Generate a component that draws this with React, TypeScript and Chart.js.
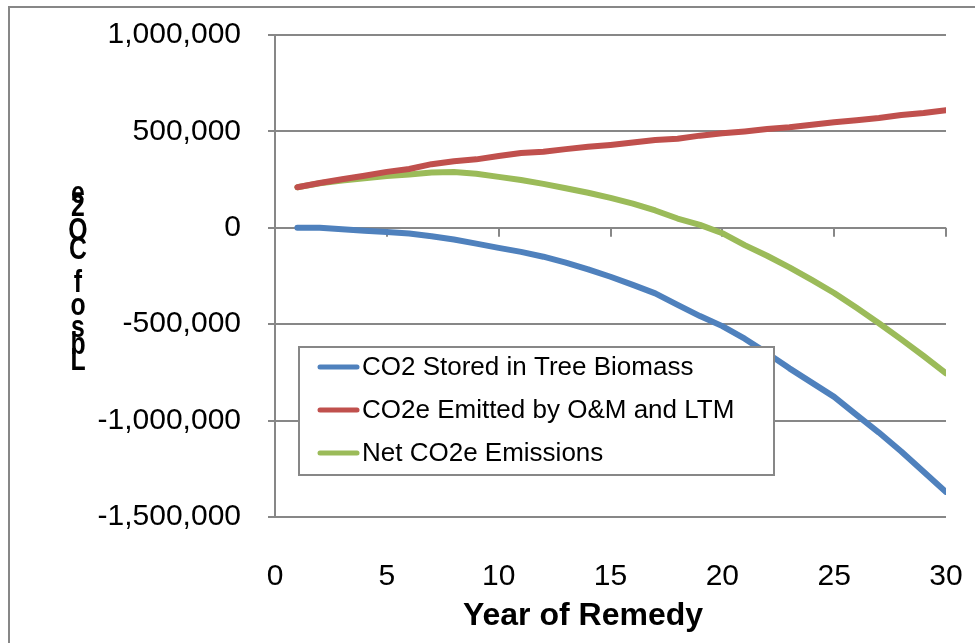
import React, { useEffect, useRef } from "react";
import { Chart, registerables } from "chart.js";

Chart.register(...registerables);

// ---- data ----
const years = [
  1, 2, 3, 4, 5, 6, 7, 8, 9, 10, 11, 12, 13, 14, 15,
  16, 17, 18, 19, 20, 21, 22, 23, 24, 25, 26, 27, 28, 29, 30,
];
const storedInTrees = [
  0, 0, -7000, -15000, -22000, -30000, -44000, -61000, -82000, -104000,
  -125000, -150000, -181000, -216000, -254000, -296000, -340000, -400000, -458000, -510000,
  -575000, -650000, -729000, -803000, -877000, -970000, -1062000, -1160000, -1265000, -1370000,
];
const emittedOM = [
  210000, 232000, 252000, 270000, 290000, 305000, 330000, 345000, 355000, 372000,
  388000, 395000, 408000, 420000, 430000, 442000, 455000, 462000, 478000, 490000,
  500000, 512000, 522000, 535000, 548000, 558000, 570000, 585000, 595000, 610000,
];
const netEmissions = [
  210000, 231000, 245000, 257000, 268000, 277000, 287000, 289000, 280000, 264000,
  248000, 228000, 205000, 182000, 155000, 125000, 90000, 48000, 15000, -28000,
  -90000, -145000, -205000, -270000, -338000, -415000, -495000, -579000, -665000, -755000,
];
const seriesNames = [
  "CO2 Stored in Tree Biomass",
  "CO2e Emitted by O&M and LTM",
  "Net CO2e Emissions",
];
const seriesColors = ["#4F81BD", "#C0504D", "#9BBB59"];
const xTicks = [0, 5, 10, 15, 20, 25, 30];
const yMin = -1500000;
const yMax = 1000000;
const yStep = 500000;
const xAxisTitle = "Year of Remedy";
const yAxisTitle = "Lbs of CO2e";

const FONT = "'Liberation Sans', Arial, sans-serif";
const GRAY = "#878787";

const zeroPadding = (s: any) => {
  s.paddingTop = 0;
  s.paddingBottom = 0;
  s.paddingLeft = 0;
  s.paddingRight = 0;
};

const decorPlugin = {
  id: "decor",
  beforeDraw(chart: any) {
    const ctx = chart.ctx;
    ctx.save();
    ctx.fillStyle = "#ffffff";
    ctx.fillRect(0, 0, chart.width, chart.height);
    ctx.strokeStyle = GRAY;
    ctx.lineWidth = 2;
    ctx.strokeRect(9, 7, chart.width + 20, chart.height + 20);
    ctx.restore();
  },
  beforeDatasetsDraw(chart: any) {
    const ctx = chart.ctx;
    const xs = chart.scales.x;
    const ys = chart.scales.y;
    const y0 = ys.getPixelForValue(0);
    ctx.save();
    ctx.strokeStyle = GRAY;
    ctx.lineWidth = 2;
    xTicks.forEach((v) => {
      const x = Math.round(xs.getPixelForValue(v));
      ctx.beginPath();
      ctx.moveTo(x, y0);
      ctx.lineTo(x, y0 + 9);
      ctx.stroke();
    });
    ctx.restore();
  },
  afterDraw(chart: any) {
    const ctx = chart.ctx;
    ctx.save();
    // legend box
    const lx = 299, ly = 347, lw = 475, lh = 128;
    ctx.fillStyle = "#ffffff";
    ctx.fillRect(lx, ly, lw, lh);
    ctx.strokeStyle = GRAY;
    ctx.lineWidth = 2;
    ctx.strokeRect(lx, ly, lw, lh);
    chart.data.datasets.forEach((ds: any, i: number) => {
      const ry = 367 + i * 43;
      ctx.strokeStyle = ds.borderColor;
      ctx.lineWidth = 5;
      ctx.lineCap = "round";
      ctx.beginPath();
      ctx.moveTo(320, ry);
      ctx.lineTo(357, ry);
      ctx.stroke();
      ctx.fillStyle = "#000000";
      ctx.font = `26px ${FONT}`;
      ctx.textBaseline = "middle";
      ctx.textAlign = "left";
      ctx.fillText(ds.label, 362, ry + 1);
    });
    // x axis title
    ctx.fillStyle = "#000000";
    ctx.font = `bold 32px ${FONT}`;
    ctx.textAlign = "center";
    ctx.textBaseline = "middle";
    ctx.fillText(xAxisTitle, 583, 616);
    // y axis title: stacked upright characters, first letter at the bottom
    const chars = yAxisTitle.replace(/ /g, "").split("");
    const bottoms = [370, 354, 337, 315, 292, 259, 240, 216, 203];
    ctx.font = `bold 31px ${FONT}`;
    ctx.textBaseline = "alphabetic";
    ctx.textAlign = "center";
    ctx.translate(78, 0);
    ctx.scale(0.8, 1);
    chars.forEach((c, i) => {
      ctx.fillText(c, 0, bottoms[i] ?? 200 - i * 18);
    });
    ctx.restore();
  },
};

export default function App() {
  const ref = useRef<HTMLCanvasElement>(null);
  useEffect(() => {
    if (!ref.current) return;
    const all = [storedInTrees, emittedOM, netEmissions];
    const chart = new Chart(ref.current, {
      type: "line",
      data: {
        datasets: all.map((vals, i) => ({
          label: seriesNames[i],
          data: years.map((x, j) => ({ x, y: vals[j] })),
          borderColor: seriesColors[i],
          backgroundColor: seriesColors[i],
          borderWidth: 6,
          pointRadius: 0,
          tension: 0,
          borderCapStyle: "round",
          borderJoinStyle: "round",
          fill: false,
        })),
      },
      options: {
        responsive: false,
        animation: false,
        layout: { padding: { top: 35, right: 29, left: 0, bottom: 0 } },
        plugins: { legend: { display: false }, tooltip: { enabled: false }, title: { display: false } },
        scales: {
          x: {
            type: "linear",
            min: 0,
            max: 30,
            afterFit: (s: any) => { s.height = 126; zeroPadding(s); },
            afterBuildTicks: (s: any) => { s.ticks = xTicks.map((v) => ({ value: v })); },
            ticks: { color: "#000", font: { size: 30, family: FONT }, padding: 34, maxRotation: 0 },
            grid: { display: false },
            border: { display: false },
          },
          y: {
            min: yMin,
            max: yMax,
            afterFit: (s: any) => { s.width = 275; zeroPadding(s); },
            ticks: {
              stepSize: yStep,
              color: "#000",
              font: { size: 30, family: FONT },
              padding: 27,
              callback: (v: any) => Number(v).toLocaleString("en-US"),
            },
            grid: { color: GRAY, lineWidth: 2, tickLength: 7 },
            border: { display: true, color: GRAY, width: 2 },
          },
        },
      },
      plugins: [decorPlugin],
    } as any);
    return () => chart.destroy();
  }, []);
  return (
    <div style={{ position: "absolute", left: 0, top: 0, width: 975, height: 643 }}>
      <canvas ref={ref} width={975} height={643} />
    </div>
  );
}
